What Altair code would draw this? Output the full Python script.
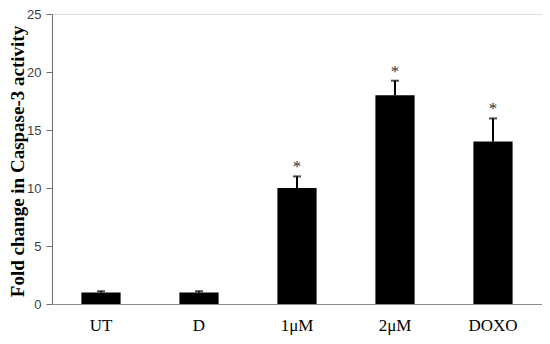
import altair as alt
import pandas as pd

categories = ["UT", "D", "1μM", "2μM", "DOXO"]
means = [1.0, 1.0, 10.0, 18.0, 14.0]
errors = [0.1, 0.1, 1.0, 1.25, 2.0]
stars = ["", "", "*", "*", "*"]

df = pd.DataFrame({
    "group": categories,
    "mean": means,
    "upper": [m + e for m, e in zip(means, errors)],
    "star": stars,
})

x = alt.X("group:N", sort=categories, title=None,
          scale=alt.Scale(paddingInner=0.6, paddingOuter=0.3),
          axis=alt.Axis(labelAngle=0, labelFont="Liberation Serif", labelFontSize=17,
                        labelColor="#000000", labelPadding=13, ticks=False,
                        domainColor="#8c8c8c", domainWidth=1))

y_scale = alt.Scale(domain=[0, 25], nice=False)

bars = alt.Chart(df).mark_bar(color="#000000").encode(
    x=x,
    y=alt.Y("mean:Q", scale=y_scale, title="Fold change in Caspase-3 activity",
            axis=alt.Axis(values=[0, 5, 10, 15, 20, 25], grid=False,
                          labelFont="Liberation Sans", labelFontSize=13, labelColor="#404040",
                          labelPadding=5, tickSize=6, tickColor="#6e6e6e", domainColor="#6e6e6e",
                          titleFont="Liberation Serif", titleFontSize=19, titleFontWeight="bold",
                          titleColor="#000000", titleX=-35, titleY=147, titleAngle=270,
                          titleAlign="center", titleBaseline="middle")),
)

rules = alt.Chart(df).mark_rule(color="#000000", strokeWidth=2).encode(
    x=alt.X("group:N", sort=categories),
    y=alt.Y("mean:Q", scale=y_scale),
    y2="upper:Q",
)

caps = alt.Chart(df).mark_tick(color="#000000", thickness=2, size=8).encode(
    x=alt.X("group:N", sort=categories),
    y=alt.Y("upper:Q", scale=y_scale),
)

star_text = alt.Chart(df).mark_text(font="Liberation Serif", fontSize=17, color="#333333",
                                    baseline="middle", dy=-9).encode(
    x=alt.X("group:N", sort=categories),
    y=alt.Y("upper:Q", scale=y_scale),
    text="star:N",
)

chart = alt.layer(bars, rules, caps, star_text).properties(
    width=490, height=290,
    autosize=alt.AutoSizeParams(type="none"),
    padding={"left": 44, "top": 6, "right": 0, "bottom": 32},
).configure_view(stroke="#8c8c8c", strokeWidth=1).configure(background="#ffffff")

chart.save("out.html", embed_options={"renderer": "svg", "actions": False})
